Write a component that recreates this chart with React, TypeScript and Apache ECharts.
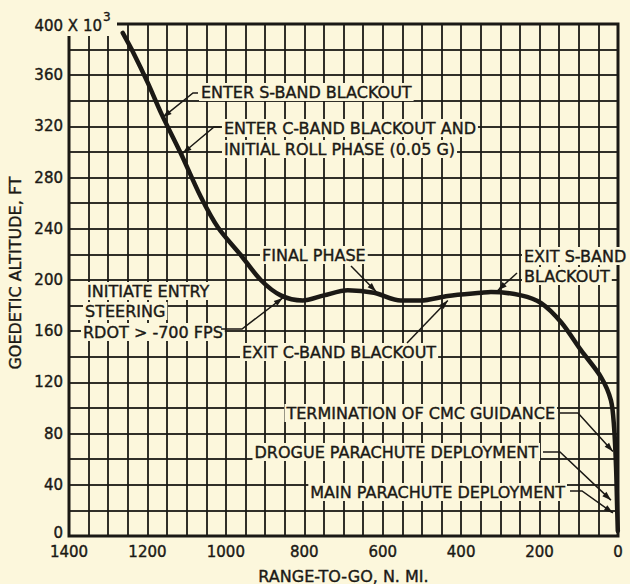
import React, { useEffect, useRef } from 'react';
import * as echarts from 'echarts';

// ---- data ----
const rangeToGo = [1263, 1235, 1199, 1163, 1115, 1064, 1020, 962, 911, 860, 804, 750, 689, 622, 554, 503, 434, 349, 324, 247, 196, 145, 94, 43, 18, 10, 5, 2, 0.5];
const altitude = [393, 377, 354, 329, 299, 265, 241, 219.5, 200, 188, 184, 188, 192, 190, 184, 184, 187.5, 190, 190.6, 188, 182, 167, 145, 124, 106, 85, 54, 20, 4];

const xTickLabels = [0, 200, 400, 600, 800, 1000, 1200, 1400];
const yTickLabels = [0, 40, 80, 120, 160, 200, 240, 280, 320, 360];

// event tips (range-to-go, altitude) the arrows point at
const eventNames = [
  'ENTER S-BAND BLACKOUT',
  'ENTER C-BAND BLACKOUT',
  'FINAL PHASE',
  'EXIT S-BAND BLACKOUT',
  'INITIATE ENTRY STEERING',
  'EXIT C-BAND BLACKOUT',
  'TERMINATION OF CMC GUIDANCE',
  'DROGUE PARACHUTE DEPLOYMENT',
  'MAIN PARACHUTE DEPLOYMENT',
];
const eventRange = [1161, 1110, 617, 306, 855, 434, 13, 18, 13];
const eventAltitude = [327, 299, 191, 192, 186, 184, 66, 28, 18];

const BG = '#fcf7dc';
const INK = '#1b1915';
const FONT = '"DejaVu Sans", sans-serif';

type Line = { t: string; x: number; y: number; align?: 'left' | 'right' };
type Note = { lines: Line[]; leader: number[][] };

// layout of the annotation texts and leader starts (pixels)
const notes: Note[] = [
  { lines: [{ t: 'ENTER S-BAND BLACKOUT', x: 199, y: 92 }], leader: [[198, 93], [193, 93]] },
  {
    lines: [
      { t: 'ENTER C-BAND BLACKOUT AND', x: 222, y: 128 },
      { t: 'INITIAL ROLL PHASE (0.05 G)', x: 222, y: 149 },
    ],
    leader: [[221, 127], [214, 127]],
  },
  { lines: [{ t: 'FINAL PHASE', x: 260, y: 255 }], leader: [[351, 266]] },
  {
    lines: [
      { t: 'EXIT S-BAND', x: 522, y: 256 },
      { t: 'BLACKOUT', x: 522, y: 276 },
    ],
    leader: [[517, 273]],
  },
  {
    lines: [
      { t: 'INITIATE ENTRY', x: 85, y: 291 },
      { t: 'STEERING', x: 83, y: 311 },
      { t: 'RDOT > -700 FPS', x: 81, y: 332 },
    ],
    leader: [[221, 329], [242, 329]],
  },
  { lines: [{ t: 'EXIT C-BAND BLACKOUT', x: 240, y: 352 }], leader: [[407, 343]] },
  { lines: [{ t: 'TERMINATION OF CMC GUIDANCE', x: 557, y: 413, align: 'right' }], leader: [[560, 413], [578, 413]] },
  { lines: [{ t: 'DROGUE PARACHUTE DEPLOYMENT', x: 540, y: 452, align: 'right' }], leader: [[543, 452], [560, 452]] },
  { lines: [{ t: 'MAIN PARACHUTE DEPLOYMENT', x: 567, y: 492, align: 'right' }], leader: [[570, 491], [582, 491]] },
];

function arrowHead(tip: number[], from: number[], len = 9, half = 3) {
  const dx = tip[0] - from[0];
  const dy = tip[1] - from[1];
  const d = Math.hypot(dx, dy) || 1;
  const ux = dx / d;
  const uy = dy / d;
  const bx = tip[0] - ux * len;
  const by = tip[1] - uy * len;
  return [
    [tip[0], tip[1]],
    [bx - uy * half, by + ux * half],
    [bx + uy * half, by - ux * half],
  ];
}

export default function App() {
  const ref = useRef<HTMLDivElement>(null);

  useEffect(() => {
    const chart = echarts.init(ref.current!, null, { renderer: 'svg' });
    const labelStyle = {
      color: INK,
      fontFamily: FONT,
      fontSize: 16,
      fontWeight: 'normal' as const,
      textBorderColor: INK,
      textBorderWidth: 0.4,
    };
    const tickText = { ...labelStyle, fontSize: 15, lineHeight: 14 };
    const gridLine = { show: true, lineStyle: { color: INK, width: 2, opacity: 0.9 } };

    chart.setOption({
      animation: false,
      backgroundColor: BG,
      grid: {
        left: 69,
        right: 12,
        top: 24,
        bottom: 48,
        show: true,
        borderColor: INK,
        borderWidth: 3,
        outerBoundsMode: 'none',
      },
      xAxis: {
        type: 'value',
        inverse: true,
        min: 0,
        max: 1400,
        interval: 200,
        axisLine: { show: false },
        axisTick: { show: false },
        axisLabel: {
          ...tickText,
          margin: 9,
          formatter: (v: number) => (xTickLabels.includes(v) ? String(v) : ''),
        },
        splitLine: gridLine,
        minorTick: { show: false, splitNumber: 4 },
        minorSplitLine: gridLine,
        name: 'RANGE-TO-GO, N. MI.',
        nameLocation: 'middle',
        nameGap: 32,
        nameTextStyle: labelStyle,
      },
      yAxis: {
        type: 'value',
        min: 0,
        max: 400,
        interval: 40,
        axisLine: { show: false },
        axisTick: { show: false },
        axisLabel: {
          ...tickText,
          margin: 6,
          formatter: (v: number) =>
            v === 0 ? '{low|0}' : yTickLabels.includes(v) ? String(v) : '',
          rich: {
            low: { ...tickText, padding: [0, 0, 7, 0] },
          },
        },
        splitLine: gridLine,
        minorTick: { show: false, splitNumber: 2 },
        minorSplitLine: gridLine,
        name: 'GOEDETIC ALTITUDE, FT',
        nameLocation: 'middle',
        nameGap: 44,
        nameTextStyle: { ...labelStyle, padding: [0, 0, 0, 14] },
      },
      series: [
        {
          type: 'line',
          data: rangeToGo.map((r, i) => [r, altitude[i]]),
          showSymbol: false,
          smooth: 0.3,
          z: 20,
          lineStyle: { color: INK, width: 4.5, cap: 'round', join: 'round' },
        },
      ],
    });

    const textStyle = (extra: any) => ({
      fill: INK,
      stroke: INK,
      lineWidth: 0.4,
      font: `16px ${FONT}`,
      verticalAlign: 'middle',
      ...extra,
    });

    const graphics: any[] = [];
    // top-left corner: the scale label breaks the frame
    graphics.push({ type: 'rect', z: 10, shape: { x: 56, y: 8, width: 61, height: 28 }, style: { fill: BG } });
    graphics.push({
      type: 'text', z: 11, x: 102, y: 26,
      style: textStyle({ text: '400 X 10', align: 'right', font: `15px ${FONT}` }),
    });
    graphics.push({
      type: 'text', z: 11, x: 103, y: 17,
      style: textStyle({ text: '3', font: `12px ${FONT}` }),
    });

    notes.forEach((n, i) => {
      n.lines.forEach((ln) => {
        graphics.push({
          type: 'text', z: 12, x: ln.x, y: ln.y,
          style: textStyle({
            text: ln.t,
            align: ln.align || 'left',
            backgroundColor: BG,
            padding: [1, 2, 1, 2],
          }),
        });
      });
      const tip = chart.convertToPixel({ gridIndex: 0 }, [eventRange[i], eventAltitude[i]]) as number[];
      const pts = [...n.leader, tip];
      graphics.push({
        type: 'polyline', z: 13,
        shape: { points: pts },
        style: { stroke: INK, lineWidth: 1.5, fill: null },
      });
      graphics.push({
        type: 'polygon', z: 14,
        shape: { points: arrowHead(tip, pts[pts.length - 2]) },
        style: { fill: INK },
      });
    });

    chart.setOption({ graphic: { elements: graphics } });

    return () => chart.dispose();
  }, []);

  return <div ref={ref} style={{ position: 'absolute', left: 0, top: 0, width: 630, height: 584 }} />;
}
